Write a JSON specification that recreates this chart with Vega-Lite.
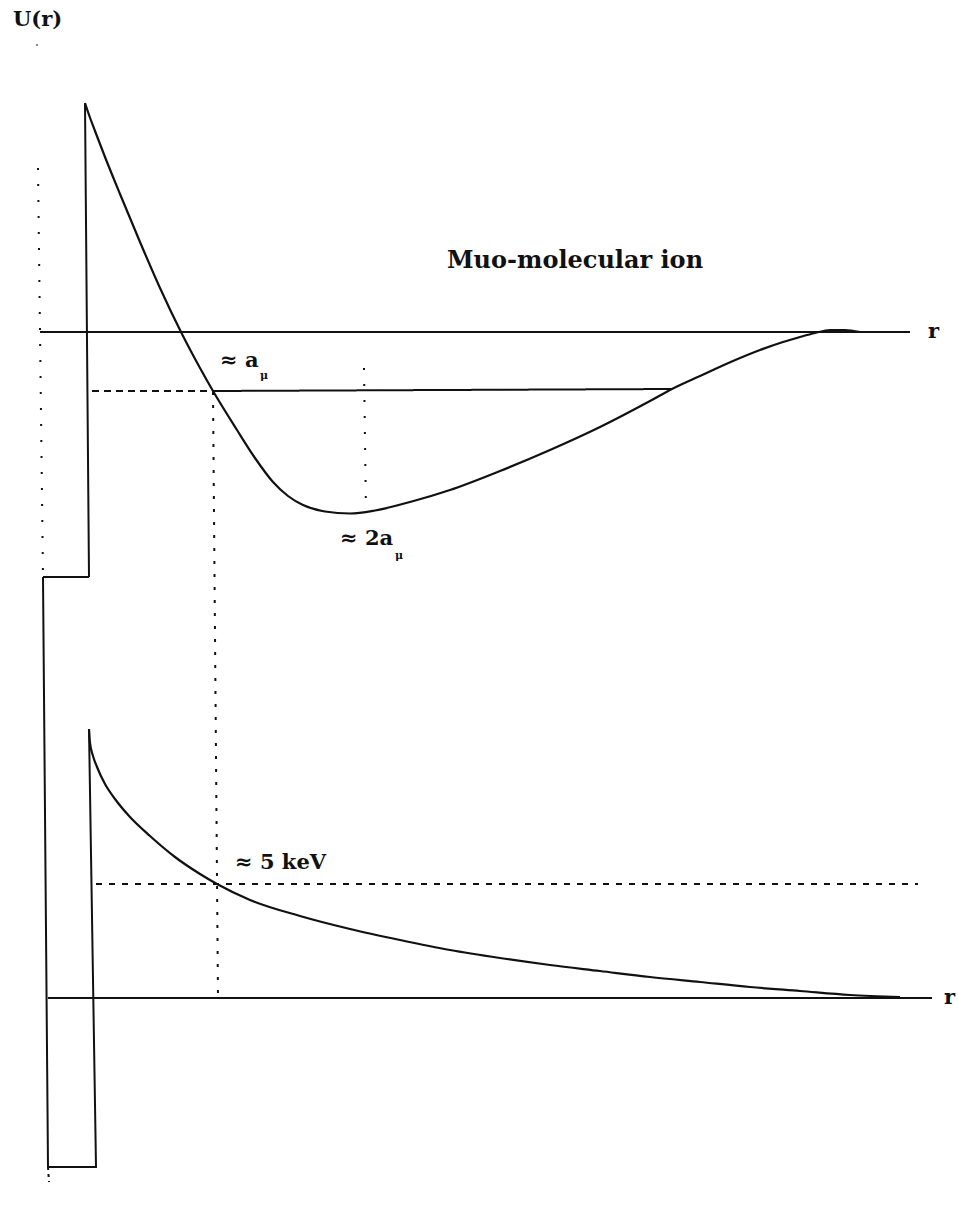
{
  "$schema": "https://vega.github.io/schema/vega-lite/v6.json",
  "width": 958,
  "height": 1209,
  "padding": 0,
  "autosize": {"type": "fit", "contains": "padding"},
  "background": "white",
  "config": {"view": {"stroke": null}},
  "datasets": {
    "paths": [
      {"seg": "top_well", "style": "solid", "i": 0, "r": 0.43, "U": 6.32},
      {"seg": "top_well", "style": "solid", "i": 1, "r": 0.89, "U": 6.32},
      {"seg": "top_well", "style": "solid", "i": 2, "r": 0.85, "U": 11.06},
      {"seg": "bottom_well", "style": "solid", "i": 0, "r": 0.43, "U": 6.32},
      {"seg": "bottom_well", "style": "solid", "i": 1, "r": 0.48, "U": 0.42},
      {"seg": "bottom_well", "style": "solid", "i": 2, "r": 0.96, "U": 0.42},
      {"seg": "bottom_well", "style": "solid", "i": 3, "r": 0.89, "U": 4.80},
      {"seg": "top_axis", "style": "solid", "i": 0, "r": 0.40, "U": 8.77},
      {"seg": "top_axis", "style": "solid", "i": 1, "r": 9.10, "U": 8.77},
      {"seg": "bottom_axis", "style": "solid", "i": 0, "r": 0.48, "U": 2.11},
      {"seg": "bottom_axis", "style": "solid", "i": 1, "r": 9.32, "U": 2.11},
      {"seg": "bound_level", "style": "solid", "i": 0, "r": 2.13, "U": 8.18},
      {"seg": "bound_level", "style": "solid", "i": 1, "r": 6.72, "U": 8.20},
      {"seg": "bound_level_in", "style": "dashA", "i": 0, "r": 0.92, "U": 8.18},
      {"seg": "bound_level_in", "style": "dashA", "i": 1, "r": 2.13, "U": 8.18},
      {"seg": "kev_level", "style": "dashB", "i": 0, "r": 0.96, "U": 3.25},
      {"seg": "kev_level", "style": "dashB", "i": 1, "r": 9.18, "U": 3.25},
      {"seg": "a_drop", "style": "dotted", "i": 0, "r": 2.13, "U": 8.17},
      {"seg": "a_drop", "style": "dotted", "i": 1, "r": 2.18, "U": 2.11},
      {"seg": "min_drop", "style": "sparse", "i": 0, "r": 3.64, "U": 8.41},
      {"seg": "min_drop", "style": "sparse", "i": 1, "r": 3.66, "U": 6.97},
      {"seg": "u_axis", "style": "sparse", "i": 0, "r": 0.38, "U": 10.41},
      {"seg": "u_axis", "style": "sparse", "i": 1, "r": 0.43, "U": 6.32},
      {"seg": "u_tail", "style": "fine", "i": 0, "r": 0.48, "U": 0.42},
      {"seg": "u_tail", "style": "fine", "i": 1, "r": 0.49, "U": 0.27}
    ],
    "curves": [
      {"seg": "muonic_ion", "r": 0.85, "U": 11.06},
      {"seg": "muonic_ion", "r": 0.88, "U": 10.97},
      {"seg": "muonic_ion", "r": 0.95, "U": 10.78},
      {"seg": "muonic_ion", "r": 1.05, "U": 10.52},
      {"seg": "muonic_ion", "r": 1.20, "U": 10.15},
      {"seg": "muonic_ion", "r": 1.40, "U": 9.67},
      {"seg": "muonic_ion", "r": 1.60, "U": 9.21},
      {"seg": "muonic_ion", "r": 1.82, "U": 8.75},
      {"seg": "muonic_ion", "r": 2.00, "U": 8.41},
      {"seg": "muonic_ion", "r": 2.13, "U": 8.18},
      {"seg": "muonic_ion", "r": 2.37, "U": 7.79},
      {"seg": "muonic_ion", "r": 2.55, "U": 7.51},
      {"seg": "muonic_ion", "r": 2.73, "U": 7.27},
      {"seg": "muonic_ion", "r": 2.88, "U": 7.13},
      {"seg": "muonic_ion", "r": 3.03, "U": 7.04},
      {"seg": "muonic_ion", "r": 3.25, "U": 6.975},
      {"seg": "muonic_ion", "r": 3.50, "U": 6.955},
      {"seg": "muonic_ion", "r": 3.75, "U": 6.985},
      {"seg": "muonic_ion", "r": 4.10, "U": 7.07},
      {"seg": "muonic_ion", "r": 4.50, "U": 7.19},
      {"seg": "muonic_ion", "r": 5.00, "U": 7.38},
      {"seg": "muonic_ion", "r": 5.50, "U": 7.59},
      {"seg": "muonic_ion", "r": 6.00, "U": 7.82},
      {"seg": "muonic_ion", "r": 6.50, "U": 8.08},
      {"seg": "muonic_ion", "r": 6.72, "U": 8.20},
      {"seg": "muonic_ion", "r": 7.00, "U": 8.33},
      {"seg": "muonic_ion", "r": 7.33, "U": 8.48},
      {"seg": "muonic_ion", "r": 7.60, "U": 8.59},
      {"seg": "muonic_ion", "r": 7.83, "U": 8.67},
      {"seg": "muonic_ion", "r": 8.00, "U": 8.72},
      {"seg": "muonic_ion", "r": 8.15, "U": 8.76},
      {"seg": "muonic_ion", "r": 8.30, "U": 8.79},
      {"seg": "muonic_ion", "r": 8.45, "U": 8.79},
      {"seg": "muonic_ion", "r": 8.60, "U": 8.77},
      {"seg": "coulomb", "r": 0.89, "U": 4.80},
      {"seg": "coulomb", "r": 0.90, "U": 4.66},
      {"seg": "coulomb", "r": 0.93, "U": 4.53},
      {"seg": "coulomb", "r": 0.97, "U": 4.42},
      {"seg": "coulomb", "r": 1.05, "U": 4.25},
      {"seg": "coulomb", "r": 1.15, "U": 4.10},
      {"seg": "coulomb", "r": 1.30, "U": 3.92},
      {"seg": "coulomb", "r": 1.50, "U": 3.73},
      {"seg": "coulomb", "r": 1.75, "U": 3.52},
      {"seg": "coulomb", "r": 2.00, "U": 3.35},
      {"seg": "coulomb", "r": 2.17, "U": 3.25},
      {"seg": "coulomb", "r": 2.50, "U": 3.09},
      {"seg": "coulomb", "r": 3.00, "U": 2.93},
      {"seg": "coulomb", "r": 3.50, "U": 2.80},
      {"seg": "coulomb", "r": 4.00, "U": 2.69},
      {"seg": "coulomb", "r": 4.50, "U": 2.59},
      {"seg": "coulomb", "r": 5.00, "U": 2.51},
      {"seg": "coulomb", "r": 5.50, "U": 2.44},
      {"seg": "coulomb", "r": 6.00, "U": 2.38},
      {"seg": "coulomb", "r": 6.50, "U": 2.32},
      {"seg": "coulomb", "r": 7.00, "U": 2.27},
      {"seg": "coulomb", "r": 7.50, "U": 2.22},
      {"seg": "coulomb", "r": 8.00, "U": 2.18},
      {"seg": "coulomb", "r": 8.50, "U": 2.14},
      {"seg": "coulomb", "r": 9.00, "U": 2.12}
    ],
    "labels": [
      {"role": "label", "text": "U(r)", "r": 0.13, "U": 11.89},
      {"role": "title", "text": "Muo-molecular ion", "r": 4.47, "U": 9.48},
      {"role": "label", "text": "≈ a", "r": 2.20, "U": 8.48},
      {"role": "sub", "text": "μ", "r": 2.60, "U": 8.33},
      {"role": "label", "text": "≈ 2a", "r": 3.40, "U": 6.70},
      {"role": "sub", "text": "μ", "r": 3.95, "U": 6.53},
      {"role": "label", "text": "≈ 5 keV", "r": 2.35, "U": 3.46},
      {"role": "label", "text": "r", "r": 9.28, "U": 8.77},
      {"role": "label", "text": "r", "r": 9.44, "U": 2.11}
    ],
    "ticks": [
      {"r": 0.37, "U": 11.64}
    ]
  },
  "encoding": {
    "x": {"field": "r", "type": "quantitative", "scale": {"domain": [0, 9.58], "nice": false, "zero": false}, "axis": null},
    "y": {"field": "U", "type": "quantitative", "scale": {"domain": [0, 12.09], "nice": false, "zero": false}, "axis": null}
  },
  "layer": [
    {
      "data": {"name": "paths"},
      "mark": {"type": "line", "color": "#111", "strokeWidth": 2, "interpolate": "linear"},
      "encoding": {
        "detail": {"field": "seg", "type": "nominal"},
        "order": {"field": "i", "type": "quantitative"},
        "strokeDash": {
          "field": "style",
          "type": "nominal",
          "scale": {
            "domain": ["solid", "dashA", "dashB", "dotted", "sparse", "fine"],
            "range": [[1, 0], [7, 5], [6, 7], [3, 10], [2, 14], [3, 4]]
          },
          "legend": null
        }
      }
    },
    {
      "data": {"name": "curves"},
      "mark": {"type": "line", "color": "#111", "strokeWidth": 2.2, "interpolate": "monotone"},
      "encoding": {
        "detail": {"field": "seg", "type": "nominal"}
      }
    },
    {
      "data": {"name": "ticks"},
      "mark": {"type": "point", "filled": true, "color": "#333", "size": 5},
      "encoding": {}
    },
    {
      "data": {"name": "labels"},
      "transform": [{"filter": "datum.role === 'title'"}],
      "mark": {"type": "text", "font": "DejaVu Serif", "fontWeight": "bold", "fontSize": 24, "align": "left", "baseline": "middle", "color": "#111"},
      "encoding": {"text": {"field": "text"}}
    },
    {
      "data": {"name": "labels"},
      "transform": [{"filter": "datum.role === 'label'"}],
      "mark": {"type": "text", "font": "DejaVu Serif", "fontWeight": "bold", "fontSize": 21, "align": "left", "baseline": "middle", "color": "#111"},
      "encoding": {"text": {"field": "text"}}
    },
    {
      "data": {"name": "labels"},
      "transform": [{"filter": "datum.role === 'sub'"}],
      "mark": {"type": "text", "font": "DejaVu Serif", "fontWeight": "bold", "fontSize": 11, "align": "left", "baseline": "middle", "color": "#111"},
      "encoding": {"text": {"field": "text"}}
    }
  ]
}
